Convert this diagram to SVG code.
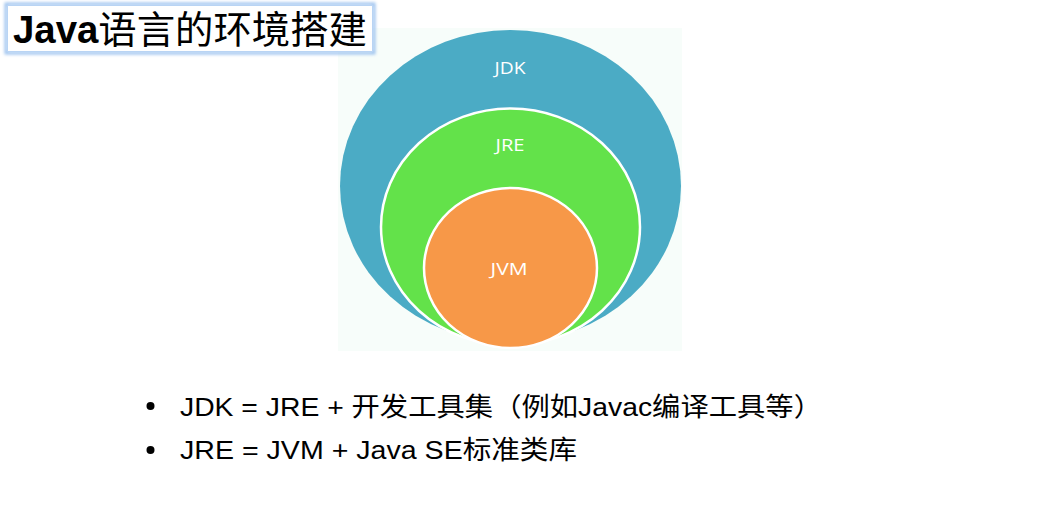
<svg xmlns="http://www.w3.org/2000/svg" width="1046" height="510" viewBox="0 0 1046 510">
  <defs>
    <filter id="glow" x="-10%" y="-30%" width="120%" height="160%">
      <feGaussianBlur stdDeviation="1.5"/>
    </filter>
  </defs>
  <style>
    .lbl { font-family: "Open Sans", "Noto Sans", sans-serif; font-size: 17px; fill: #ffffff; text-anchor: middle; }
    .bullet { font-family: "Liberation Sans", "Noto Sans CJK SC", sans-serif; font-size: 26px; fill: #000000; }
    .ring { stroke: #ffffff; stroke-width: 2.5; }
  </style>
  <rect width="1046" height="510" fill="#ffffff"/>

  <g id="diagram">
    <rect x="338" y="28" width="344" height="323" fill="#f7fdfa"/>
    <g id="jdk">
      <ellipse cx="510.5" cy="186" rx="170.5" ry="156" fill="#4babc5"/>
      <text class="lbl" x="510" y="74" textLength="31" lengthAdjust="spacingAndGlyphs">JDK</text>
    </g>
    <g id="jre">
      <ellipse class="ring" cx="510.5" cy="227" rx="129.5" ry="118.5" fill="#63e24a"/>
      <text class="lbl" x="510" y="151" textLength="29" lengthAdjust="spacingAndGlyphs">JRE</text>
    </g>
    <g id="jvm">
      <ellipse class="ring" cx="510.5" cy="268" rx="86.5" ry="80" fill="#f79848"/>
      <text class="lbl" x="509" y="275" textLength="37" lengthAdjust="spacingAndGlyphs">JVM</text>
    </g>
  </g>

  <g id="title">
    <rect x="6" y="4" width="368" height="49" fill="none" stroke="#9cc2ef" stroke-width="3" filter="url(#glow)"/>
    <rect x="7.5" y="5.5" width="365" height="46" fill="#ffffff" stroke="#b9d4f4" stroke-width="1"/>
    <text x="13" y="43" font-family="Liberation Sans, Noto Sans CJK SC, sans-serif" font-size="38" fill="#000000" textLength="354" lengthAdjust="spacingAndGlyphs"><tspan font-weight="bold">Java</tspan><tspan>语言的环境搭建</tspan></text>
  </g>

  <g id="connectors"></g>

  <g id="bullets">
    <circle cx="150.5" cy="406" r="4" fill="#000000"/>
    <text class="bullet" x="180" y="416" textLength="642" lengthAdjust="spacingAndGlyphs">JDK = JRE + 开发工具集（例如Javac编译工具等）</text>
    <circle cx="150.5" cy="450" r="4" fill="#000000"/>
    <text class="bullet" x="180" y="459" textLength="397" lengthAdjust="spacingAndGlyphs">JRE = JVM + Java SE标准类库</text>
  </g>
</svg>
